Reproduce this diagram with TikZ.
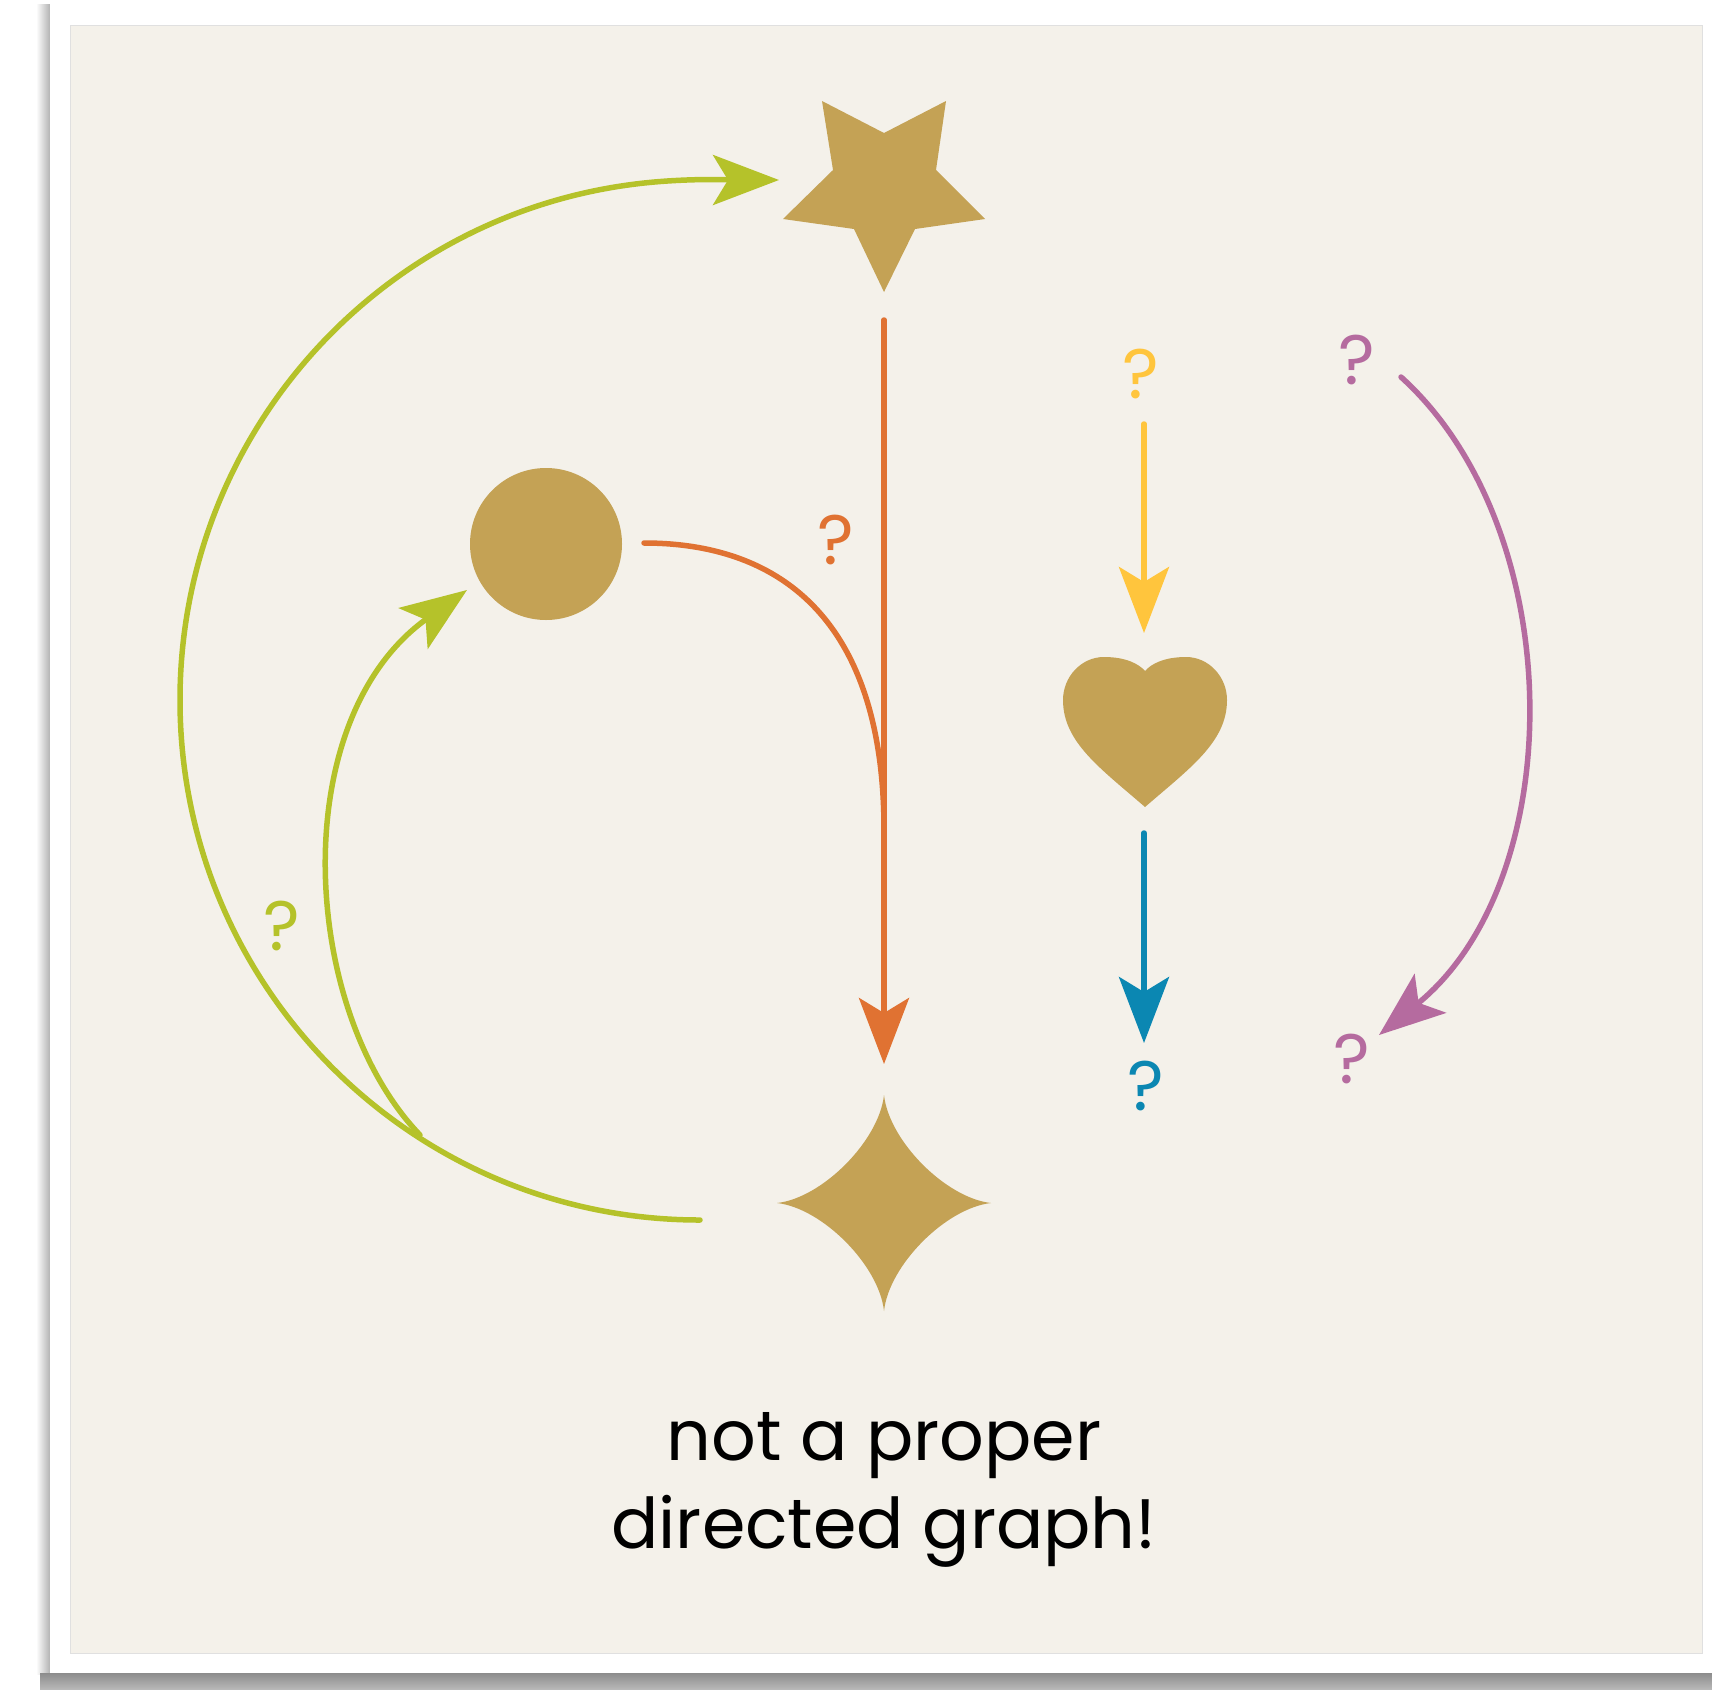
\documentclass[tikz,border=0pt]{standalone}
\usepackage{fontspec}
\setmainfont{Poppins}
\usetikzlibrary{arrows.meta}
\definecolor{bgc}{HTML}{F4F1EA}
\definecolor{gold}{HTML}{C4A255}
\definecolor{lime}{HTML}{B5C22A}
\definecolor{orng}{HTML}{E07232}
\definecolor{yel}{HTML}{FFC53D}
\definecolor{blu}{HTML}{0B87B2}
\definecolor{purp}{HTML}{B56B9F}
\begin{document}
\begin{tikzpicture}[x=1pt,y=-1pt,
  wire/.style={line width=5.5pt, line cap=round},
  conn/.style={wire, -{Stealth[length=66pt,width=50pt,inset=15pt]}},
  qm/.style={font=\fontsize{70}{70}\selectfont, inner sep=0pt},
  shapefill/.style={fill=gold}]
\useasboundingbox (0,0) rectangle (1712,1689);
% card and shadow
\fill[white] (0,0) rectangle (1712,1689);
\shade[left color=white, right color=black!30] (36,4) rectangle (50,1674);
\shade[top color=black!45, bottom color=black!28] (40,1673) rectangle (1712,1689);
\fill[white] (50,4) rectangle (1712,1673);
\filldraw[fill=bgc, draw=black!12, line width=1pt] (70,25) rectangle (1702,1653);
% shapes
\fill[shapefill] (822,101) -- (884,133) -- (946,101) -- (936,170) -- (985,219) -- (915,229)
  -- (884,292) -- (854,229) -- (783,219) -- (833,170) -- cycle;
\fill[shapefill] (884,1095) .. controls (889,1141) and (946,1198) .. (991,1203)
  .. controls (946,1208) and (889,1265) .. (884,1311)
  .. controls (879,1265) and (822,1208) .. (777,1203)
  .. controls (822,1198) and (879,1141) .. (884,1095) -- cycle;
\fill[shapefill] (546,544) circle[radius=76];
\fill[shapefill] (1145,807) .. controls (1100,768) and (1063,742) .. (1063,700)
  .. controls (1063,677) and (1081,657) .. (1104,657)
  .. controls (1126,657) and (1139,664) .. (1145,671)
  .. controls (1151,664) and (1164,657) .. (1186,657)
  .. controls (1209,657) and (1227,677) .. (1227,700)
  .. controls (1227,742) and (1190,768) .. (1145,807) -- cycle;
% coordinates
\coordinate (os) at (884,320);
\coordinate (oe) at (884,1064);
\coordinate (cs) at (644,543);
\coordinate (cj) at (884,830);
\coordinate (gs) at (700,1220);
\coordinate (ge) at (779,180);
\coordinate (hs) at (420,1135);
\coordinate (he) at (467,590);
\coordinate (ys) at (1144,424);
\coordinate (ye) at (1144,633);
\coordinate (bs) at (1144,833);
\coordinate (be) at (1144,1043);
\coordinate (ps) at (1401,377);
\coordinate (pe) at (1379,1035);
% connectors
\draw[conn, orng] (os) -- (oe);
\draw[wire, orng] (cs) .. controls (785,543) and (884,625) .. (cj);
\draw[conn, lime] (gs) arc[start angle=90, end angle=265, radius=520]
  .. controls (700,178) and (740,180) .. (ge);
\draw[conn, lime] (hs) .. controls (300,1010) and (285,720) .. (he);
\draw[conn, yel] (ys) -- (ye);
\draw[conn, blu] (bs) -- (be);
\draw[conn, purp] (ps) .. controls (1570,530) and (1570,880) .. (pe);
% question marks
\node[qm, text=orng] (q1) at (836,540) {?};
\node[qm, text=lime] (q2) at (282,926) {?};
\node[qm, text=yel] (q3) at (1141,374) {?};
\node[qm, text=blu] (q4) at (1146,1086) {?};
\node[qm, text=purp] (q5) at (1357,360) {?};
\node[qm, text=purp] (q6) at (1352,1059) {?};
% caption
\node[align=center, inner sep=0pt, font=\fontsize{70}{88}\selectfont] (cap) at (884,1490) {not a proper\\directed graph!};
\end{tikzpicture}
\end{document}
